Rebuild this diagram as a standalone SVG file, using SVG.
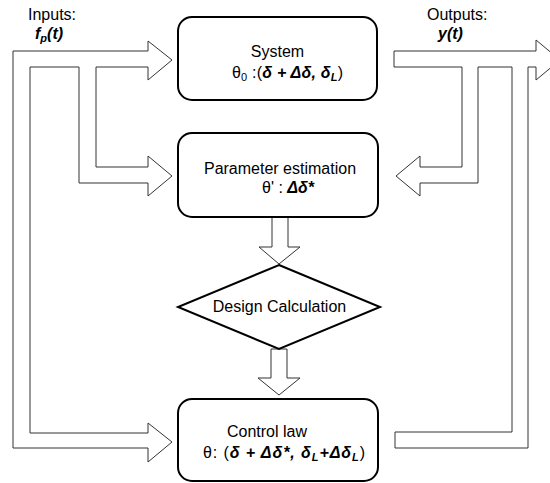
<svg xmlns="http://www.w3.org/2000/svg" width="550" height="483" viewBox="0 0 550 483">
<style>
.conn{fill:#fff;stroke:#333;stroke-width:1}
.box{fill:#fff;stroke:#000;stroke-width:2}
text{font-family:"Liberation Sans",Arial,sans-serif;font-size:16px;fill:#000}
.bi{font-weight:bold;font-style:italic}
.sub{font-size:11px}
</style>
<rect width="550" height="483" fill="#fff"/>
<g id="connectors">
<polygon class="conn" points="13,51 148,51 148,41 172,60 148,80 148,67 96,67 96,167 148,167 148,156 172,176 148,196 148,183 79,183 79,67 30,67 30,433 148,433 148,423 172,442 148,462 148,448 13,448"/>
<polygon class="conn" points="394,51 536,51 536,40 560,60 536,80 536,67 528,67 528,448 395,448 395,432 512,432 512,67 478,67 478,183 420,183 420,196 396,176 420,156 420,167 462,167 462,67 394,67"/>
<polygon class="conn" points="272,216 288,216 288,247 300,247 279,264 259,247 272,247"/>
<polygon class="conn" points="271,349 287,349 287,378 300,378 279,395 258,378 271,378"/>
</g>
<g id="labels">
<text x="28" y="20">Inputs:</text>
<text x="35" y="39" class="bi">f<tspan class="sub" dy="3">p</tspan><tspan dy="-3">(t)</tspan></text>
<text x="427" y="20">Outputs:</text>
<text x="438" y="39" class="bi">y(t)</text>
</g>
<g id="system">
<rect class="box" x="178" y="17" width="199" height="83" rx="14"/>
<text x="277.5" y="57" text-anchor="middle">System</text>
<text x="232" y="78" textLength="111" lengthAdjust="spacing">θ<tspan class="sub" dy="3">0</tspan><tspan dy="-3"> :(</tspan><tspan class="bi">δ + Δδ, δ</tspan><tspan class="bi sub" dy="3">L</tspan><tspan dy="-3">)</tspan></text>
</g>
<g id="param">
<rect class="box" x="178" y="133" width="200" height="84" rx="14"/>
<text x="280" y="174" text-anchor="middle">Parameter estimation</text>
<text x="262" y="193">θ' : <tspan class="bi">Δδ*</tspan></text>
</g>
<g id="design">
<polygon class="box" points="279,265 380,307 279,349 178,307"/>
<text x="279.5" y="312" text-anchor="middle">Design Calculation</text>
</g>
<g id="control">
<rect class="box" x="178" y="399" width="200" height="82" rx="14"/>
<text x="267" y="437" text-anchor="middle">Control law</text>
<text x="203" y="458" textLength="162" lengthAdjust="spacing">θ: (<tspan class="bi">δ + Δδ*, δ</tspan><tspan class="bi sub" dy="3">L</tspan><tspan class="bi" dy="-3">+Δδ</tspan><tspan class="bi sub" dy="3">L</tspan><tspan dy="-3">)</tspan></text>
</g>
</svg>
